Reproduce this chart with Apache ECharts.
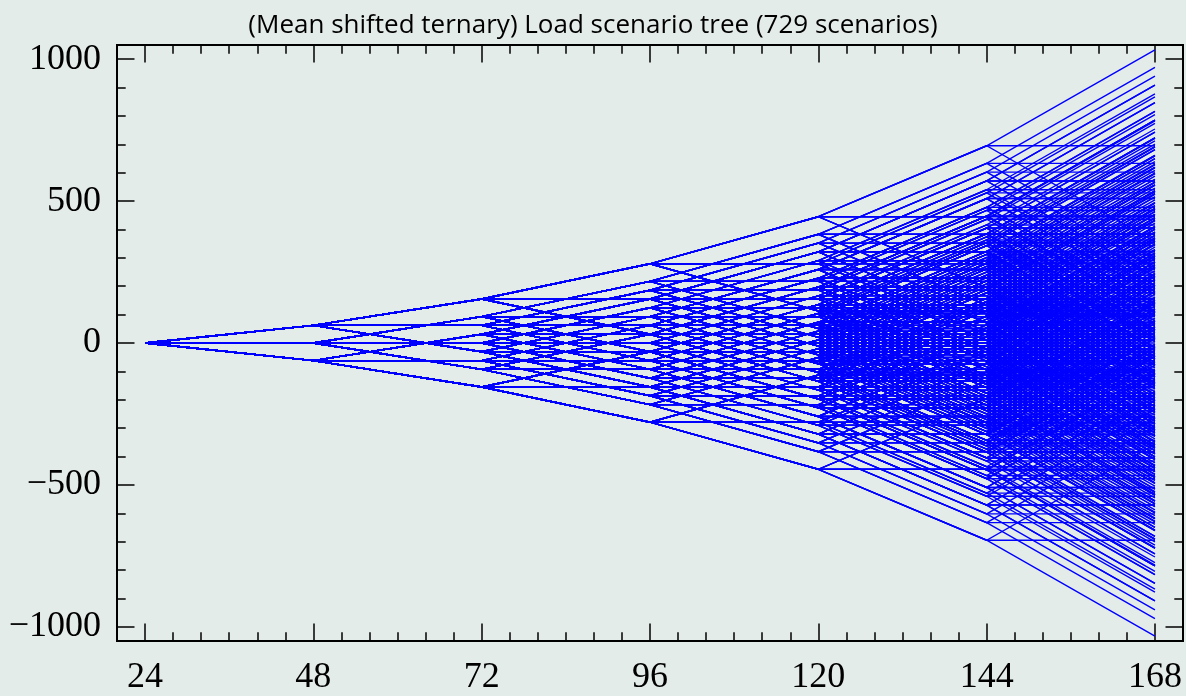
<!DOCTYPE html>
<html>
<head>
<meta charset="utf-8">
<script src="https://cdn.jsdelivr.net/npm/echarts@6/dist/echarts.min.js"></script>
<style>
html, body { margin: 0; padding: 0; background: #e4ece9; }
#c { width: 1186px; height: 696px; }
</style>
</head>
<body>
<div id="c"></div>
<script>
// ---- data ----
const stageHours = [24, 48, 72, 96, 120, 144, 168];
const rootLoad = 0;
// half-width of the ternary branching added at each stage
const branchSpread = [62, 93, 124, 166, 250, 338];
const branchOffsets = [-1, 0, 1];
const xTickLabels = [24, 48, 72, 96, 120, 144, 168];
const yTickLabels = [-1000, -500, 0, 500, 1000];
const titleText = '(Mean shifted ternary) Load scenario tree (729 scenarios)';

// minor tick positions (every 4 h and every 100)
const xMinorTicks = [];
for (let h = 20; h <= 172; h += 4) xMinorTicks.push(h);
const yMinorTicks = [];
for (let v = -1000; v <= 1000; v += 100) yMinorTicks.push(v);

// ---- build the 3^6 = 729 scenario paths of the tree ----
let scenarios = [[rootLoad]];
for (let k = 0; k < branchSpread.length; k++) {
  const next = [];
  for (const path of scenarios) {
    const last = path[path.length - 1];
    for (const o of branchOffsets) next.push(path.concat([last + o * branchSpread[k]]));
  }
  scenarios = next;
}
const linesData = scenarios.map(p => ({ coords: p.map((v, i) => [stageHours[i], v]) }));

const labelFont = { fontFamily: 'Liberation Serif', fontSize: 36, color: '#000' };
const tickStyle = { color: '#000', width: 1.5 };

function xAx(position, values, len, labels) {
  return {
    type: 'value', position: position, min: 20, max: 172,
    axisLine: { show: false, onZero: false },
    splitLine: { show: false },
    axisTick: { show: true, inside: true, length: len, customValues: values, lineStyle: tickStyle },
    axisLabel: labels ? Object.assign({ show: true, margin: 19, customValues: xTickLabels }, labelFont) : { show: false }
  };
}
function yAx(position, values, len, labels) {
  return {
    type: 'value', position: position, min: -1050, max: 1050,
    axisLine: { show: false, onZero: false },
    splitLine: { show: false },
    axisTick: { show: true, inside: true, length: len, customValues: values, lineStyle: tickStyle },
    axisLabel: labels ? Object.assign({
      show: true, margin: 16, customValues: yTickLabels,
      formatter: v => String(v).replace('-', '\u2212')
    }, labelFont) : { show: false }
  };
}

const chart = echarts.init(document.getElementById('c'), null, { renderer: 'canvas' });
chart.setOption({
  backgroundColor: '#e4ece9',
  animation: false,
  title: {
    text: titleText, left: 'center', top: 8,
    textStyle: { fontFamily: 'Open Sans', fontSize: 26, fontWeight: 'normal', color: '#000' }
  },
  grid: { left: 117, right: 3, top: 45, bottom: 49, show: true, borderColor: '#000', borderWidth: 2, backgroundColor: 'transparent' },
  xAxis: [
    xAx('bottom', xTickLabels, 17.5, true),
    xAx('bottom', xMinorTicks, 8.7, false),
    xAx('top', xTickLabels, 17.5, false),
    xAx('top', xMinorTicks, 8.7, false)
  ],
  yAxis: [
    yAx('left', yTickLabels, 17.5, true),
    yAx('left', yMinorTicks, 8.7, false),
    yAx('right', yTickLabels, 17.5, false),
    yAx('right', yMinorTicks, 8.7, false)
  ],
  series: [{
    type: 'lines',
    coordinateSystem: 'cartesian2d',
    xAxisIndex: 0, yAxisIndex: 0,
    polyline: true,
    silent: true,
    lineStyle: { color: '#0000ff', width: 1.4, opacity: 1 },
    data: linesData
  }]
});
</script>
</body>
</html>
